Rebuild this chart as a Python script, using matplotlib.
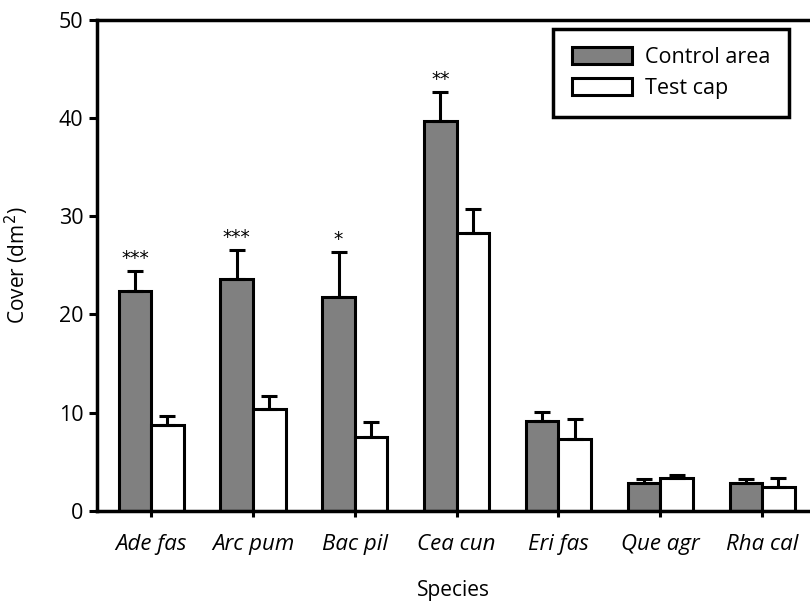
import numpy as np
import matplotlib.pyplot as plt

species = ["Ade fas", "Arc pum", "Bac pil", "Cea cun", "Eri fas", "Que agr", "Rha cal"]
control = [22.4, 23.6, 21.8, 39.7, 9.1, 2.85, 2.85]
control_err = [2.0, 3.0, 4.6, 3.0, 1.0, 0.35, 0.35]
test = [8.7, 10.4, 7.5, 28.3, 7.3, 3.35, 2.4]
test_err = [0.9, 1.3, 1.5, 2.4, 2.0, 0.25, 0.95]
stars = ["***", "***", "*", "**", "", "", ""]

plt.rcParams['font.family'] = ['Open Sans', 'DejaVu Sans']

fig = plt.figure(figsize=(8.1, 6.03), dpi=100)
ax = fig.add_axes([0.12, 0.153, 0.88, 0.814])

x = np.arange(len(species))
w = 0.32
ekw = dict(elinewidth=2.2, capsize=5.5, capthick=2.2, ecolor="black")
ax.bar(x - w / 2, control, w, yerr=[np.zeros(7), control_err], color="#808080",
       edgecolor="black", linewidth=2.2, error_kw=ekw, label="Control area", zorder=2)
ax.bar(x + w / 2, test, w, yerr=[np.zeros(7), test_err], color="white",
       edgecolor="black", linewidth=2.2, error_kw=ekw, label="Test cap", zorder=2)

for i, s in enumerate(stars):
    if s:
        ax.text(x[i] - w / 2, control[i] + control_err[i] + 0.3, s,
                ha="center", va="bottom", fontsize=13.5, family="DejaVu Sans")

ax.set_xlim(-0.53, 6.47)
ax.set_ylim(0, 50)
ax.set_yticks([0, 10, 20, 30, 40, 50])
ax.set_xticks(x)
ax.set_xticklabels(species, fontstyle="italic", fontsize=16)
ax.tick_params(axis="y", labelsize=15.5, width=2.2, length=6, direction="out", pad=4)
ax.tick_params(axis="x", width=2.2, length=4, direction="out", pad=13)
ax.spines["right"].set_visible(False)
for sp in ["left", "top", "bottom"]:
    ax.spines[sp].set_linewidth(2.5)

ax.set_ylabel("Cover (dm$^2$)", fontsize=15, labelpad=20)
ax.set_xlabel("Species", fontsize=15, labelpad=18)

leg = ax.legend(loc="upper right", bbox_to_anchor=(0.985, 1.004), fontsize=15.5,
                fancybox=False, framealpha=1, edgecolor="black",
                handlelength=2.8, handleheight=0.85, borderpad=0.85,
                handletextpad=0.6, labelspacing=0.45)
leg.get_frame().set_linewidth(2.5)

fig.savefig("out.png", dpi=100)
